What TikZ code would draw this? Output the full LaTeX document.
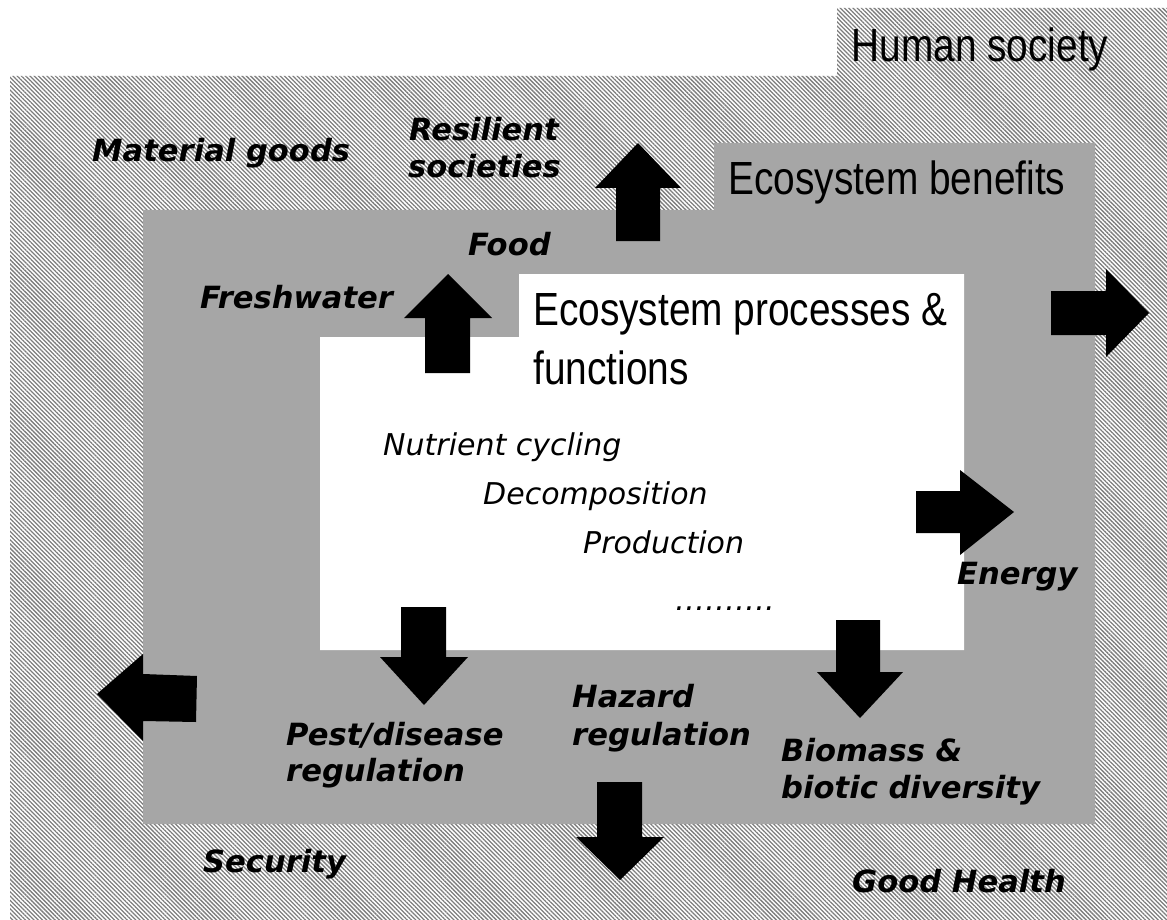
\documentclass[tikz,border=0pt]{standalone}
\usepackage{fontspec}
\setmainfont{DejaVu Sans}
\newfontfamily\titlefont[FakeStretch=0.835]{Liberation Sans}
\newfontfamily\labelfont{DejaVu Sans}
\usetikzlibrary{patterns.meta}
\definecolor{benefit}{RGB}{166,166,166}
\definecolor{hatch}{RGB}{125,125,125}
\begin{document}
\begin{tikzpicture}[x=1pt,y=-1pt,
  titletext/.style={font=\titlefont\fontsize{46.5}{50}\selectfont, inner sep=0pt},
  servicetext/.style={font=\labelfont\bfseries\itshape\fontsize{30.6}{36}\selectfont, inner sep=0pt, anchor=base west},
  processtext/.style={font=\labelfont\itshape\fontsize{30}{36}\selectfont, inner sep=0pt, anchor=base west},
  blockarrow/.style={fill=black}]
\useasboundingbox (0,0) rectangle (1167,920);
\fill[white] (0,0) rectangle (1167,920);
% Human society (hatched)
\path[pattern={Lines[angle=-45,distance=3pt,line width=1.3pt]}, pattern color=hatch]
  (10,76) -- (837,76) -- (837,8) -- (1167,8) -- (1167,920) -- (10,920) -- cycle;
% Ecosystem benefits (grey)
\fill[benefit] (143,210) -- (714,210) -- (714,143) -- (1095,143) -- (1095,824) -- (143,824) -- cycle;
% Ecosystem processes (white)
\fill[white] (320,337) -- (519,337) -- (519,274) -- (964,274) -- (964,650) -- (320,650) -- cycle;
% block arrows
\fill[blockarrow] (425,373) -- (425,318) -- (404,318) -- (448,274) -- (492,318) -- (470,318) -- (470,373) -- cycle;
\fill[blockarrow] (616,241) -- (616,188) -- (595,188) -- (638,143) -- (681,188) -- (660,188) -- (660,241) -- cycle;
\fill[blockarrow] (1051,291) -- (1106,291) -- (1106,269) -- (1149,313) -- (1106,357) -- (1106,335) -- (1051,335) -- cycle;
\fill[blockarrow] (916,491) -- (960,491) -- (960,470) -- (1014,512) -- (960,555) -- (960,533) -- (916,533) -- cycle;
\fill[blockarrow] (197,676) -- (143,674) -- (143,654) -- (97,694) -- (143,741) -- (143,721) -- (196,722) -- cycle;
\fill[blockarrow] (401,607) -- (446,607) -- (446,657) -- (468,657) -- (424,705) -- (380,657) -- (401,657) -- cycle;
\fill[blockarrow] (597,782) -- (642,782) -- (642,837) -- (664,837) -- (620,880) -- (576,837) -- (597,837) -- cycle;
\fill[blockarrow] (836,620) -- (880,620) -- (880,672) -- (903,672) -- (860,718) -- (817,672) -- (836,672) -- cycle;
% titles
\node[titletext, anchor=base] (human) at (980,62) {Human society};
\node[titletext, anchor=base] (benefits) at (897,195) {Ecosystem benefits};
\node[titletext, anchor=base west] (proc1) at (533,325) {Ecosystem processes \&};
\node[titletext, anchor=base west] (proc2) at (533,384) {functions};
% service labels
\node[servicetext] (material) at (92,162) {Material goods};
\node[servicetext] (resil1) at (409,141) {Resilient};
\node[servicetext] (resil2) at (408,178) {societies};
\node[servicetext] (food) at (468,255) {Food};
\node[servicetext] (fresh) at (200,308) {Freshwater};
\node[servicetext] (energy) at (957,584) {Energy};
\node[servicetext] (pest1) at (286,745) {Pest/disease};
\node[servicetext] (pest2) at (286,781) {regulation};
\node[servicetext] (hazard1) at (572,707) {Hazard};
\node[servicetext] (hazard2) at (572,745) {regulation};
\node[servicetext] (bio1) at (781,761) {Biomass \&};
\node[servicetext] (bio2) at (781,798) {biotic diversity};
\node[servicetext] (security) at (203,872) {Security};
\node[servicetext] (health) at (852,892) {Good Health};
% process list
\node[processtext] (nutrient) at (383,455) {Nutrient cycling};
\node[processtext] (decomp) at (483,504) {Decomposition};
\node[processtext] (prod) at (583,553) {Production};
\node[processtext] (dots) at (675,610) {……….};
\end{tikzpicture}
\end{document}
